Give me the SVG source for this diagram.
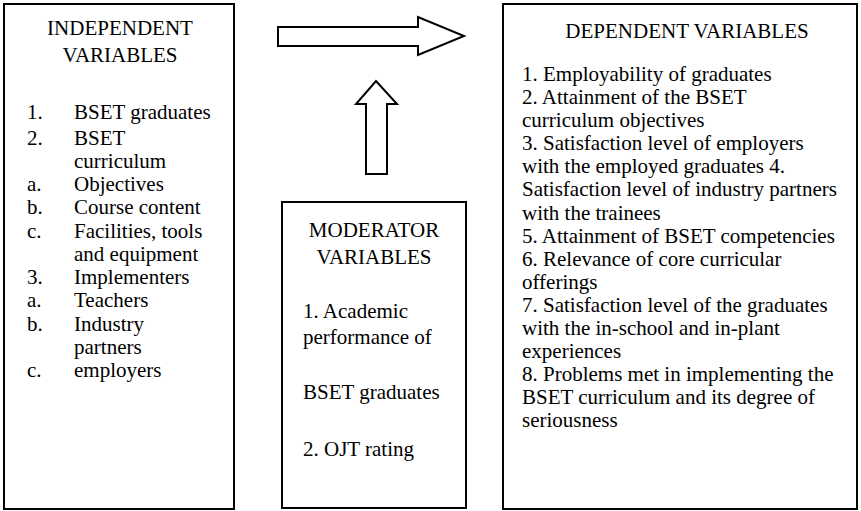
<svg xmlns="http://www.w3.org/2000/svg" width="861" height="511" viewBox="0 0 861 511">
<style>
.box{fill:#fff;stroke:#000;stroke-width:2}
.arr{fill:#fff;stroke:#000;stroke-width:2;stroke-linejoin:miter}
text{font-family:"Liberation Serif","Times New Roman",serif;font-size:21px;fill:#000}
.c{text-anchor:middle}
</style>
<rect width="861" height="511" fill="#fff"/>
<g id="independent">
<rect class="box" x="4" y="4" width="230" height="505"/>
<text class="c" x="120" y="35">INDEPENDENT</text>
<text class="c" x="120" y="62">VARIABLES</text>
<text x="27" y="119">1.</text><text x="74" y="119">BSET graduates</text>
<text x="27" y="145">2.</text><text x="74" y="145">BSET</text>
<text x="74" y="168">curriculum</text>
<text x="27" y="191">a.</text><text x="74" y="191">Objectives</text>
<text x="27" y="214">b.</text><text x="74" y="214">Course content</text>
<text x="27" y="238">c.</text><text x="74" y="238">Facilities, tools</text>
<text x="74" y="261">and equipment</text>
<text x="27" y="284">3.</text><text x="74" y="284">Implementers</text>
<text x="27" y="307">a.</text><text x="74" y="307">Teachers</text>
<text x="27" y="331">b.</text><text x="74" y="331">Industry</text>
<text x="74" y="354">partners</text>
<text x="27" y="377">c.</text><text x="74" y="377">employers</text>
</g>
<g id="moderator">
<rect class="box" x="282" y="202" width="184" height="306"/>
<text class="c" x="374" y="237">MODERATOR</text>
<text class="c" x="374" y="264">VARIABLES</text>
<text x="303" y="318">1. Academic</text>
<text x="303" y="344">performance of</text>
<text x="303" y="399">BSET graduates</text>
<text x="303" y="456">2. OJT rating</text>
</g>
<g id="dependent">
<rect class="box" x="503" y="4" width="354" height="505"/>
<text class="c" x="687" y="38">DEPENDENT VARIABLES</text>
<text x="522" y="81">1. Employability of graduates</text>
<text x="522" y="104">2. Attainment of the BSET</text>
<text x="522" y="127">curriculum objectives</text>
<text x="522" y="150">3. Satisfaction level of employers</text>
<text x="522" y="173">with the employed graduates 4.</text>
<text x="522" y="196">Satisfaction level of industry partners</text>
<text x="522" y="220">with the trainees</text>
<text x="522" y="243">5. Attainment of BSET competencies</text>
<text x="522" y="266">6. Relevance of core curricular</text>
<text x="522" y="289">offerings</text>
<text x="522" y="312">7. Satisfaction level of the graduates</text>
<text x="522" y="335">with the in-school and in-plant</text>
<text x="522" y="358">experiences</text>
<text x="522" y="381">8. Problems met in implementing the</text>
<text x="522" y="404">BSET curriculum and its degree of</text>
<text x="522" y="427">seriousness</text>
</g>
<g id="connectors">
<polygon class="arr" points="278,27 418,27 418,17 464,36 418,55 418,46 278,46"/>
<polygon class="arr" points="366,174 366,104 356,104 376,81 397,104 387,104 387,174"/>
</g>
</svg>
